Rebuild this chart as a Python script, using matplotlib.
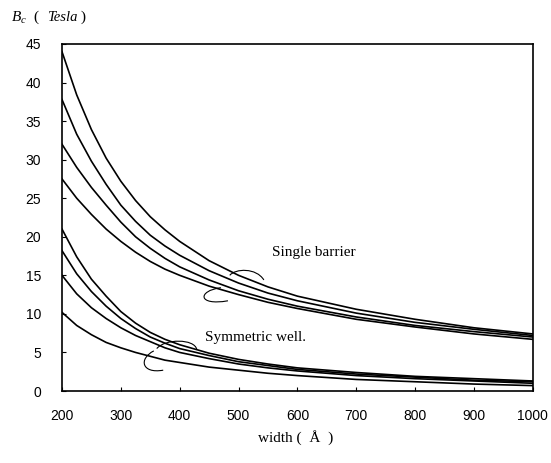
import matplotlib
matplotlib.use('Agg')
import matplotlib.pyplot as plt
from matplotlib.path import Path
from matplotlib.patches import PathPatch

plt.rcParams['mathtext.fontset'] = 'custom'
plt.rcParams['mathtext.it'] = 'Liberation Serif:italic'
plt.rcParams['mathtext.rm'] = 'Liberation Serif'

# width in Angstrom
width = [200, 225, 250, 275, 300, 325, 350, 375, 400, 450, 500, 550, 600, 700, 800, 900, 1000]

# Single barrier curves (Tesla)
barrier_1 = [44.0, 38.4, 33.9, 30.2, 27.2, 24.7, 22.6, 20.9, 19.4, 16.9, 15.0, 13.5, 12.3, 10.6, 9.3, 8.2, 7.4]
barrier_2 = [37.8, 33.3, 29.8, 26.8, 24.1, 22.0, 20.2, 18.8, 17.6, 15.6, 14.0, 12.7, 11.7, 10.1, 8.9, 8.0, 7.2]
barrier_3 = [32.0, 29.0, 26.4, 24.1, 21.9, 20.0, 18.5, 17.2, 16.1, 14.4, 13.0, 11.9, 11.0, 9.6, 8.5, 7.7, 7.0]
barrier_4 = [27.5, 25.0, 22.9, 21.0, 19.4, 18.0, 16.8, 15.8, 15.0, 13.6, 12.5, 11.5, 10.7, 9.3, 8.3, 7.4, 6.7]

# Symmetric well curves (Tesla)
well_1 = [21.0, 17.4, 14.5, 12.3, 10.3, 8.8, 7.6, 6.7, 6.0, 4.9, 4.1, 3.5, 3.0, 2.4, 1.9, 1.6, 1.3]
well_2 = [18.2, 15.2, 12.9, 11.0, 9.4, 8.1, 7.0, 6.2, 5.5, 4.6, 3.8, 3.3, 2.8, 2.2, 1.8, 1.4, 1.2]
well_3 = [15.0, 12.6, 10.8, 9.4, 8.2, 7.2, 6.4, 5.6, 5.0, 4.2, 3.5, 3.0, 2.6, 2.0, 1.6, 1.3, 1.0]
well_4 = [10.2, 8.5, 7.3, 6.3, 5.6, 5.0, 4.5, 4.0, 3.7, 3.1, 2.7, 2.3, 2.0, 1.5, 1.2, 0.9, 0.7]

xticks = [200, 300, 400, 500, 600, 700, 800, 900, 1000]
yticks = [0, 5, 10, 15, 20, 25, 30, 35, 40, 45]

fig = plt.figure(figsize=(5.51, 4.63), dpi=100)
ax = fig.add_axes([0.1125, 0.1555, 0.8545, 0.7495])

for series in [barrier_1, barrier_2, barrier_3, barrier_4, well_1, well_2, well_3, well_4]:
    ax.plot(width, series, color='black', lw=1.2, solid_joinstyle='round')

ax.set_xlim(200, 1000)
ax.set_ylim(0, 45)
ax.set_xticks(xticks)
ax.set_yticks(yticks)
ax.tick_params(direction='in', length=3, width=0.8, top=False, right=False)
ax.tick_params(axis='x', pad=13)
ax.tick_params(axis='y', pad=15)
for lab in ax.get_xticklabels() + ax.get_yticklabels():
    lab.set_fontfamily('Liberation Sans')
    lab.set_fontsize(10)
for sp in ax.spines.values():
    sp.set_linewidth(1.2)

serif = 'Liberation Serif'
ax.text(557, 17.9, 'Single barrier', family=serif, fontsize=11, va='center')
ax.text(443, 7.0, 'Symmetric well.', family=serif, fontsize=11, va='center')

# hand-drawn curly brackets around the bundles
def curl(points):
    codes = [Path.MOVETO] + [Path.CURVE4] * (len(points) - 1)
    ax.add_patch(PathPatch(Path(points, codes), fc='none', ec='black', lw=0.8))

curl([(485, 15.0), (495, 15.9), (530, 16.0), (543, 14.4)])
curl([(470, 13.4), (430, 13.0), (430, 11.0), (482, 11.7)])
curl([(361, 5.5), (375, 6.8), (425, 6.8), (429, 5.4)])
curl([(356, 5.2), (330, 4.2), (335, 2.2), (372, 2.7)])

fig.text(0.02, 0.962, r'$B_c$', fontsize=11, va='center')
fig.text(0.062, 0.962, '( ', family=serif, fontsize=11, va='center')
fig.text(0.085, 0.962, 'Tesla', family=serif, style='italic', fontsize=10.5, va='center')
fig.text(0.14, 0.962, ' )', family=serif, fontsize=11, va='center')

fig.text(0.537, 0.056, 'width (  Å  )', family=serif, fontsize=11, ha='center', va='center')

fig.savefig('out.png', dpi=100)
